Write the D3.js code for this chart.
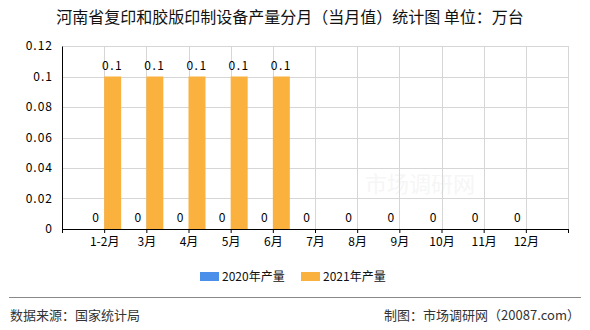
<!DOCTYPE html>
<html>
<head>
<meta charset="utf-8">
<script src="https://cdn.jsdelivr.net/npm/d3@7"></script>
<style>
  body { margin: 0; background: #fff; }
  text { font-family: "Noto Sans CJK SC", "DejaVu Sans", sans-serif; }
</style>
</head>
<body>
<svg width="590" height="330"></svg>
<script>
const months = ["1-2月", "3月", "4月", "5月", "6月", "7月", "8月", "9月", "10月", "11月", "12月"];
const values2020 = [0, 0, 0, 0, 0, 0, 0, 0, 0, 0, 0];
const values2021 = [0.1, 0.1, 0.1, 0.1, 0.1];
const seriesNames = ["2020年产量", "2021年产量"];
const colors = ["#4a8fea", "#fbb13e"];
const yTicks = [0, 0.02, 0.04, 0.06, 0.08, 0.1, 0.12];

const svg = d3.select("svg");
const plotLeft = 62, plotRight = 568, plotTop = 46, plotBottom = 229;
const barW = 17;

const x = d3.scalePoint().domain(months).range([plotLeft, plotRight]).padding(1);
const step = x.step();
const y = d3.scaleLinear().domain([0, 0.12]).range([plotBottom, plotTop]);

// title
svg.append("text")
  .attr("x", 290).attr("y", 23)
  .attr("text-anchor", "middle")
  .style("font-size", "16px")
  .attr("fill", "#111")
  .text("河南省复印和胶版印制设备产量分月（当月值）统计图 单位：万台");

// watermark
svg.append("text")
  .attr("x", 420).attr("y", 192)
  .attr("text-anchor", "middle")
  .style("font-size", "22px")
  .attr("fill", "#f6f6f6")
  .text("市场调研网");

// horizontal grid
svg.append("g")
  .selectAll("line")
  .data(yTicks.slice(1))
  .join("line")
  .attr("x1", plotLeft).attr("x2", plotRight)
  .attr("y1", d => Math.round(y(d)) + 0.5).attr("y2", d => Math.round(y(d)) + 0.5)
  .attr("stroke", "#d6d6d6");

// vertical grid
const vLines = d3.range(1, months.length + 2).map(k => plotLeft + k * step);
svg.append("g")
  .selectAll("line")
  .data(vLines)
  .join("line")
  .attr("x1", d => Math.round(d) + 0.5).attr("x2", d => Math.round(d) + 0.5)
  .attr("y1", plotTop).attr("y2", plotBottom)
  .attr("stroke", "#d6d6d6");

// bars
const data2020 = values2020.map((v, i) => ({ m: months[i], v }));
const data2021 = values2021.map((v, i) => ({ m: months[i], v }));

svg.append("g")
  .selectAll("rect")
  .data(data2020)
  .join("rect")
  .attr("x", d => x(d.m) - barW)
  .attr("y", d => y(d.v))
  .attr("width", barW)
  .attr("height", d => plotBottom - y(d.v))
  .attr("fill", colors[0]);

svg.append("g")
  .selectAll("rect")
  .data(data2021)
  .join("rect")
  .attr("x", d => x(d.m))
  .attr("y", d => y(d.v))
  .attr("width", barW)
  .attr("height", d => plotBottom - y(d.v))
  .attr("fill", colors[1]);

// value labels
svg.append("g")
  .selectAll("text")
  .data(data2020)
  .join("text")
  .attr("x", d => x(d.m) - barW / 2)
  .attr("y", d => y(d.v) - 7)
  .attr("text-anchor", "middle")
  .style("font-size", "12px")
  .attr("fill", "#000")
  .text(d => d.v);

svg.append("g")
  .selectAll("text")
  .data(data2021)
  .join("text")
  .attr("x", d => x(d.m) + barW / 2)
  .attr("y", d => y(d.v) - 7)
  .attr("text-anchor", "middle")
  .style("font-size", "12px")
  .style("letter-spacing", "1.5px")
  .attr("fill", "#000")
  .text(d => d.v);

// y axis
const yAxis = svg.append("g")
  .attr("transform", `translate(${plotLeft},0)`)
  .call(d3.axisLeft(y).tickValues(yTicks).tickSize(0).tickPadding(9).tickFormat(d3.format("")));
yAxis.select(".domain").attr("stroke", "#000");
yAxis.selectAll("text").style("font-size", "12px").style("letter-spacing", "1px").attr("fill", "#000");

// x axis
const xAxis = svg.append("g")
  .attr("transform", `translate(0,${plotBottom})`)
  .call(d3.axisBottom(x).tickSize(4).tickPadding(4).tickSizeOuter(0));
xAxis.select(".domain").attr("d", `M${plotLeft},0.5H${plotRight}`).attr("stroke", "#000");
xAxis.selectAll("text").style("font-size", "12px").attr("fill", "#000");
xAxis.selectAll(".tick line").attr("stroke", "#000");
xAxis.append("g")
  .selectAll("line")
  .data([plotLeft, plotRight])
  .join("line")
  .attr("x1", d => d + 0.5).attr("x2", d => d + 0.5)
  .attr("y1", 0).attr("y2", 4)
  .attr("stroke", "#000");

// legend
const legend = svg.append("g").attr("transform", "translate(200,272)");
seriesNames.forEach((name, i) => {
  const g = legend.append("g").attr("transform", `translate(${i * 101},0)`);
  g.append("rect").attr("width", 19).attr("height", 9).attr("fill", colors[i]);
  g.append("text").attr("x", 22).attr("y", 9)
    .style("font-size", "12px").attr("fill", "#111").text(name);
});

// footer
svg.append("line")
  .attr("x1", 9).attr("x2", 581)
  .attr("y1", 297.5).attr("y2", 297.5)
  .attr("stroke", "#888");
svg.append("text")
  .attr("x", 10).attr("y", 320)
  .style("font-size", "13px").attr("fill", "#333")
  .text("数据来源：国家统计局");
svg.append("text")
  .attr("x", 580).attr("y", 320)
  .attr("text-anchor", "end")
  .style("font-size", "13px").attr("fill", "#333")
  .text("制图：市场调研网（20087.com）");
</script>
</body>
</html>
